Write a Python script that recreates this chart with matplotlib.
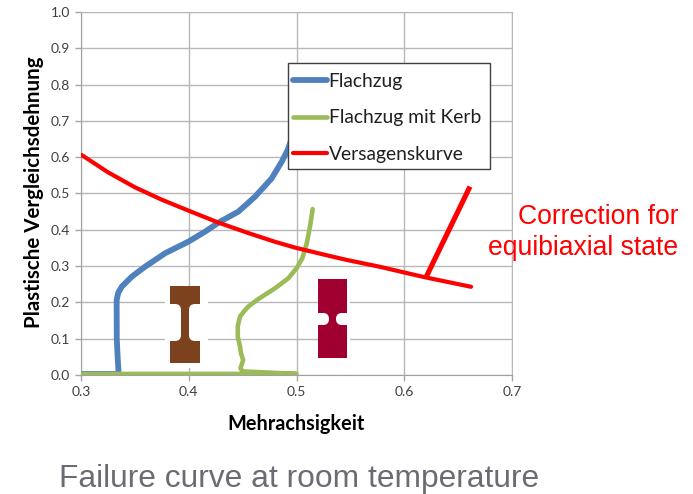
import numpy as np
import matplotlib
matplotlib.use('Agg')
import matplotlib.pyplot as plt
from matplotlib.patches import Rectangle, FancyBboxPatch
from matplotlib.transforms import Affine2D

W, H = 693, 494

# values
flachzug_x = [0.300, 0.334, 0.335, 0.334, 0.3332, 0.3331, 0.3331, 0.3345, 0.3378, 0.3471, 0.3594, 0.378,
              0.3996, 0.4151, 0.429, 0.446, 0.4615, 0.477, 0.4863, 0.4918, 0.500]
flachzug_y = [0.003, 0.003, 0.000, 0.050, 0.100, 0.179, 0.2066, 0.226, 0.2433, 0.2708, 0.2983, 0.3353,
              0.3672, 0.3948, 0.4223, 0.4499, 0.4912, 0.5419, 0.5876, 0.6198, 0.690]
kerb_x = [0.300, 0.500, 0.450, 0.4480, 0.4505, 0.4485, 0.4476, 0.4455, 0.4455, 0.4476, 0.4510, 0.4553, 0.4646,
          0.480, 0.4924, 0.500, 0.5054, 0.5095, 0.5125, 0.515]
kerb_y = [0.003, 0.003, 0.010, 0.0184, 0.0413, 0.0597, 0.078, 0.105, 0.135, 0.1607, 0.1744, 0.1887, 0.2094,
          0.2388, 0.2664, 0.294, 0.3215, 0.3628, 0.4086, 0.457]
kurve_x = [0.3006, 0.3253, 0.3501, 0.3749, 0.3996, 0.4274, 0.4553, 0.480, 0.4986, 0.5264, 0.5466, 0.5775, 0.618, 0.662]
kurve_y = [0.606, 0.558, 0.517, 0.483, 0.453, 0.420, 0.391, 0.367, 0.351, 0.331, 0.317, 0.298, 0.270, 0.243]
korrektur_x = [0.620, 0.661]
korrektur_y = [0.268, 0.519]
x_ticks = [0.3, 0.4, 0.5, 0.6, 0.7]
y_ticks = [0.0, 0.1, 0.2, 0.3, 0.4, 0.5, 0.6, 0.7, 0.8, 0.9, 1.0]

fig = plt.figure(figsize=(W / 100, H / 100), dpi=100)
ax = fig.add_axes([81 / W, 1 - 375 / H, 431 / W, 363 / H])
px = Affine2D().scale(1 / W, -1 / H).translate(0, 1) + fig.transFigure

ax.set_xlim(0.3, 0.7)
ax.set_ylim(0, 1)
ax.set_xticks(x_ticks)
ax.set_yticks(y_ticks)
ax.set_xticklabels([f'{v:.1f}' for v in x_ticks], family='Lato', fontsize=10, color='#404040')
ax.set_yticklabels([f'{v:.1f}' for v in y_ticks], family='Lato', fontsize=10, color='#404040')
ax.tick_params(length=4, width=1, color='#a6a6a6', pad=4)
ax.grid(True, color='#b8b8b8', linewidth=1)
ax.set_axisbelow(True)
for side in ['top', 'right']:
    ax.spines[side].set_color('#b8b8b8')
for side in ['left', 'bottom']:
    ax.spines[side].set_color('#a0a0a0')

ax.plot(flachzug_x, flachzug_y, color='#4f81bd', linewidth=4.2, solid_capstyle='round', solid_joinstyle='round', zorder=3, label='Flachzug')
ax.plot(kerb_x, kerb_y, color='#9bbb59', linewidth=3.3, solid_capstyle='round', solid_joinstyle='round', zorder=4, label='Flachzug mit Kerb')
ax.plot(kurve_x, kurve_y, color='#ff0000', linewidth=3.0, solid_capstyle='round', solid_joinstyle='round', zorder=5, label='Versagenskurve')
ax.plot(korrektur_x, korrektur_y, color='#ff0000', linewidth=3.7, solid_capstyle='butt', zorder=5)

# specimen sketches, in pixels
def rect(x0, y0, x1, y1, color, z):
    ax.add_patch(Rectangle((x0, y0), x1 - x0, y1 - y0, transform=px, facecolor=color, edgecolor='none', zorder=z, clip_on=False))

def cut(x0, y0, x1, y1, r):
    ax.add_patch(FancyBboxPatch((x0 + r, y0 + r), x1 - x0 - 2 * r, y1 - y0 - 2 * r, boxstyle=f'round,pad={r},rounding_size={r}',
                                transform=px, facecolor='white', edgecolor='none', zorder=2.7, clip_on=False))

rect(165, 286, 208, 368, 'white', 2.5)
rect(170, 286, 200, 363, '#7b421d', 2.6)
cut(164, 304, 181, 341, 6)
cut(189, 304, 207, 341, 6)
rect(318, 279, 350, 361, 'white', 2.5)
rect(318, 279, 347, 358, '#a00030', 2.6)
cut(312, 313, 329, 325, 5.9)
cut(336, 313, 353, 325, 5.9)

# legend frame drawn separately so the entries can sit where they do in the picture
ax.add_patch(Rectangle((288, 63), 202, 106, transform=px, facecolor='white', edgecolor='#404040', linewidth=1, zorder=9, clip_on=False))
leg = ax.legend(loc='upper left', bbox_to_anchor=(293 / W, 1 - 73 / H), bbox_transform=fig.transFigure, borderaxespad=0,
                frameon=False, prop={'family': 'Lato', 'size': 13.9},
                labelspacing=1.0, handlelength=1.75, handletextpad=0.1, borderpad=0, labelcolor='#202020')
leg.set_zorder(10)

ax.set_xlabel('Mehrachsigkeit', family='Lato', fontweight='bold', fontsize=14.3, color='black')
ax.xaxis.set_label_coords(296.5 / W, 1 - 414 / H, transform=fig.transFigure)
ax.set_ylabel('Plastische Vergleichsdehnung', family='Lato', fontweight='bold', fontsize=14.8, color='black')
ax.yaxis.set_label_coords(44 / W, 1 - 192 / H, transform=fig.transFigure)

fig.text(678 / W, 1 - 217 / H, 'Correction for', family='Liberation Sans', fontsize=19.1, color='#ff0000', ha='right', va='center')
fig.text(678 / W, 1 - 248 / H, 'equibiaxial state', family='Liberation Sans', fontsize=19.1, color='#ff0000', ha='right', va='center')
fig.text(59 / W, 1 - 479 / H, 'Failure curve at room temperature', family='Liberation Sans', fontsize=22.9, color='#6b6b73', ha='left', va='center')

fig.savefig('out.png', dpi=100)
